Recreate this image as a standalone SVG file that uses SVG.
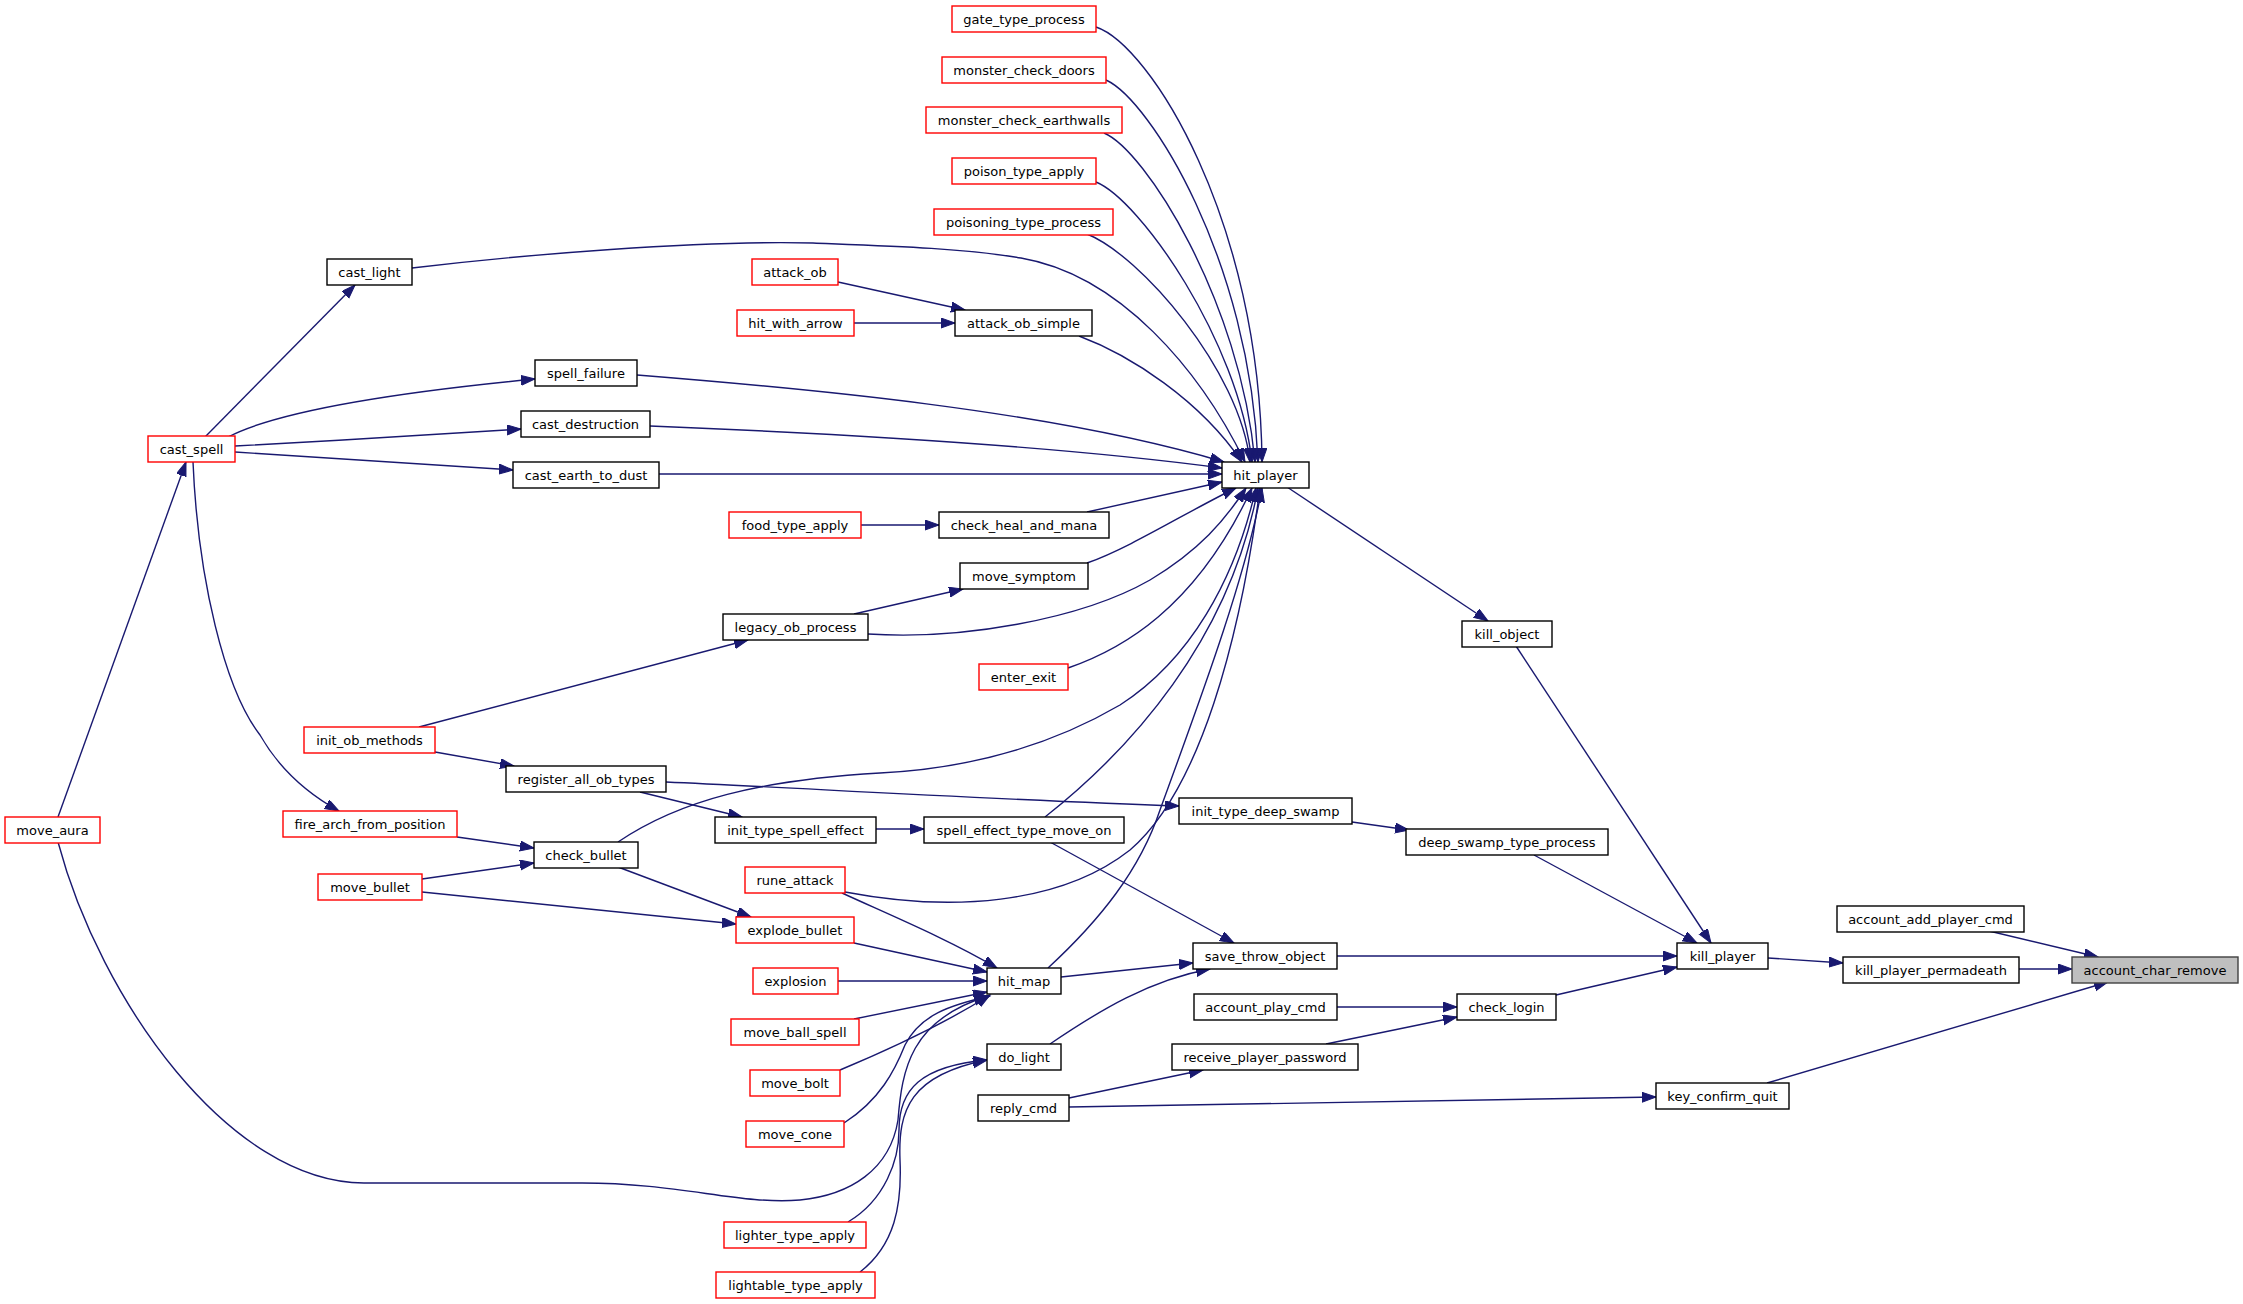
<svg xmlns="http://www.w3.org/2000/svg" width="2243" height="1304" viewBox="0 0 2243 1304">
<defs>
<style>
.n rect{fill:#ffffff;stroke:#000000;stroke-width:1.4}
.r rect{stroke:#ff0000}
.root rect{fill:#bfbfbf;stroke:#404040}
.n text{font-family:"DejaVu Sans","Liberation Sans",sans-serif;font-size:13px;text-anchor:middle;fill:#000000}
#edges path{fill:none;stroke:#191970;stroke-width:1.4;marker-end:url(#a)}
</style>
<marker id="a" markerUnits="userSpaceOnUse" markerWidth="16" markerHeight="12" refX="14" refY="5" orient="auto">
<path d="M0,0 L14,5 L0,10 z" fill="#191970" stroke="#191970" stroke-width="1"/>
</marker>
</defs>
<rect x="0" y="0" width="2243" height="1304" fill="#ffffff"/>
<g id="edges">
<path d="M1989,931 L2098,957"/>
<path d="M2019,969 L2072,969"/>
<path d="M1767,1083 L2108,982"/>
<path d="M1768,958 L1843,963"/>
<path d="M1516,646 L1711,943"/>
<path d="M1534,855 L1697,943"/>
<path d="M1337,956 L1677,956"/>
<path d="M1556,995 L1677,967"/>
<path d="M1287,487 L1488,621"/>
<path d="M1337,1007 L1457,1007"/>
<path d="M1326,1044 L1457,1017"/>
<path d="M1069,1098 L1203,1070"/>
<path d="M1069,1107 C1300,1104 1500,1100 1656,1097"/>
<path d="M1061,977 L1193,963"/>
<path d="M1050,1044 C1100,1010 1150,980 1210,969"/>
<path d="M1050,842 L1234,943"/>
<path d="M1352,822 L1409,830"/>
<path d="M666,782 C800,788 1000,800 1179,806"/>
<path d="M876,829 L924,829"/>
<path d="M640,792 L742,817"/>
<path d="M435,752 L514,766"/>
<path d="M419,727 L748,640"/>
<path d="M854,614 L963,589"/>
<path d="M868,634 C960,640 1080,620 1150,580 C1200,550 1225,520 1246,488"/>
<path d="M1087,563 C1130,548 1190,510 1236,488"/>
<path d="M1087,512 L1222,482"/>
<path d="M861,525 L939,525"/>
<path d="M1068,668 C1120,650 1195,610 1252,488"/>
<path d="M618,842 C680,800 760,780 880,773 C980,768 1060,740 1120,705 C1190,660 1235,580 1256,488"/>
<path d="M1045,817 C1130,750 1230,640 1258,488"/>
<path d="M845,892 C950,912 1060,905 1130,850 C1200,790 1240,640 1260,488"/>
<path d="M1048,968 C1100,920 1140,870 1160,810 C1200,700 1245,580 1262,488"/>
<path d="M659,474 L1222,474"/>
<path d="M650,426 C800,432 1050,445 1222,468"/>
<path d="M637,375 C800,388 1050,410 1224,462"/>
<path d="M412,268 C520,255 700,240 813,243 C890,246 960,248 1021,258 C1120,275 1200,370 1245,462"/>
<path d="M1079,336 C1130,355 1200,400 1242,462"/>
<path d="M1096,27 C1150,45 1260,220 1262,462"/>
<path d="M1106,80 C1150,100 1250,260 1258,462"/>
<path d="M1104,133 C1145,150 1240,300 1255,462"/>
<path d="M1096,182 C1140,200 1238,340 1252,462"/>
<path d="M1087,234 C1140,255 1240,370 1250,462"/>
<path d="M838,282 L965,310"/>
<path d="M854,323 L955,323"/>
<path d="M205,437 L355,285"/>
<path d="M228,437 C280,410 400,392 535,379"/>
<path d="M235,446 C330,441 430,435 521,429"/>
<path d="M235,452 L513,470"/>
<path d="M58,817 L186,462"/>
<path d="M193,462 C198,580 225,690 260,735 C280,770 310,795 339,811"/>
<path d="M457,837 L534,848"/>
<path d="M422,879 L534,863"/>
<path d="M618,867 L751,917"/>
<path d="M422,892 L736,924"/>
<path d="M842,893 C890,915 950,940 997,968"/>
<path d="M854,943 L987,972"/>
<path d="M838,981 L987,981"/>
<path d="M854,1019 L987,992"/>
<path d="M840,1070 C900,1045 950,1020 990,995"/>
<path d="M844,1123 C880,1100 895,1070 905,1045 C920,1015 950,1005 990,996"/>
<path d="M58,842 C100,1000 230,1183 364,1183 L582,1183 C680,1183 740,1205 800,1200 C850,1195 890,1170 898,1120 C902,1070 910,1020 988,996"/>
<path d="M848,1222 C885,1200 899,1160 899,1130 C899,1090 920,1066 987,1060"/>
<path d="M860,1272 C895,1245 902,1205 900,1160 C898,1110 910,1075 987,1060"/>
</g>
<g id="n_account_char_remove" class="n root"><rect x="2072" y="957" width="166" height="26"/><text x="2155" y="974.5">account_char_remove</text></g>
<g id="n_account_add_player_cmd" class="n"><rect x="1837" y="906" width="187" height="26"/><text x="1930.5" y="923.5">account_add_player_cmd</text></g>
<g id="n_kill_player_permadeath" class="n"><rect x="1843" y="957" width="176" height="26"/><text x="1931" y="974.5">kill_player_permadeath</text></g>
<g id="n_key_confirm_quit" class="n"><rect x="1656" y="1083" width="133" height="26"/><text x="1722.5" y="1100.5">key_confirm_quit</text></g>
<g id="n_kill_player" class="n"><rect x="1677" y="943" width="91" height="26"/><text x="1722.5" y="960.5">kill_player</text></g>
<g id="n_kill_object" class="n"><rect x="1462" y="621" width="90" height="26"/><text x="1507" y="638.5">kill_object</text></g>
<g id="n_deep_swamp_type_process" class="n"><rect x="1406" y="829" width="202" height="26"/><text x="1507" y="846.5">deep_swamp_type_process</text></g>
<g id="n_save_throw_object" class="n"><rect x="1193" y="943" width="144" height="26"/><text x="1265" y="960.5">save_throw_object</text></g>
<g id="n_check_login" class="n"><rect x="1457" y="994" width="99" height="26"/><text x="1506.5" y="1011.5">check_login</text></g>
<g id="n_account_play_cmd" class="n"><rect x="1194" y="994" width="143" height="26"/><text x="1265.5" y="1011.5">account_play_cmd</text></g>
<g id="n_receive_player_password" class="n"><rect x="1172" y="1044" width="186" height="26"/><text x="1265" y="1061.5">receive_player_password</text></g>
<g id="n_reply_cmd" class="n"><rect x="978" y="1095" width="91" height="26"/><text x="1023.5" y="1112.5">reply_cmd</text></g>
<g id="n_hit_map" class="n"><rect x="987" y="968" width="74" height="26"/><text x="1024" y="985.5">hit_map</text></g>
<g id="n_do_light" class="n"><rect x="987" y="1044" width="74" height="26"/><text x="1024" y="1061.5">do_light</text></g>
<g id="n_hit_player" class="n"><rect x="1222" y="462" width="87" height="26"/><text x="1265.5" y="479.5">hit_player</text></g>
<g id="n_init_type_deep_swamp" class="n"><rect x="1179" y="798" width="173" height="26"/><text x="1265.5" y="815.5">init_type_deep_swamp</text></g>
<g id="n_spell_effect_type_move_on" class="n"><rect x="924" y="817" width="200" height="26"/><text x="1024" y="834.5">spell_effect_type_move_on</text></g>
<g id="n_init_type_spell_effect" class="n"><rect x="715" y="817" width="161" height="26"/><text x="795.5" y="834.5">init_type_spell_effect</text></g>
<g id="n_register_all_ob_types" class="n"><rect x="506" y="766" width="160" height="26"/><text x="586" y="783.5">register_all_ob_types</text></g>
<g id="n_init_ob_methods" class="n r"><rect x="304" y="727" width="131" height="26"/><text x="369.5" y="744.5">init_ob_methods</text></g>
<g id="n_legacy_ob_process" class="n"><rect x="723" y="614" width="145" height="26"/><text x="795.5" y="631.5">legacy_ob_process</text></g>
<g id="n_move_symptom" class="n"><rect x="960" y="563" width="128" height="26"/><text x="1024" y="580.5">move_symptom</text></g>
<g id="n_check_heal_and_mana" class="n"><rect x="939" y="512" width="170" height="26"/><text x="1024" y="529.5">check_heal_and_mana</text></g>
<g id="n_food_type_apply" class="n r"><rect x="729" y="512" width="132" height="26"/><text x="795" y="529.5">food_type_apply</text></g>
<g id="n_enter_exit" class="n r"><rect x="979" y="664" width="89" height="26"/><text x="1023.5" y="681.5">enter_exit</text></g>
<g id="n_cast_earth_to_dust" class="n"><rect x="513" y="462" width="146" height="26"/><text x="586" y="479.5">cast_earth_to_dust</text></g>
<g id="n_cast_destruction" class="n"><rect x="521" y="411" width="129" height="26"/><text x="585.5" y="428.5">cast_destruction</text></g>
<g id="n_spell_failure" class="n"><rect x="535" y="360" width="102" height="26"/><text x="586" y="377.5">spell_failure</text></g>
<g id="n_cast_light" class="n"><rect x="327" y="259" width="85" height="26"/><text x="369.5" y="276.5">cast_light</text></g>
<g id="n_cast_spell" class="n r"><rect x="148" y="436" width="87" height="26"/><text x="191.5" y="453.5">cast_spell</text></g>
<g id="n_attack_ob_simple" class="n"><rect x="955" y="310" width="137" height="26"/><text x="1023.5" y="327.5">attack_ob_simple</text></g>
<g id="n_attack_ob" class="n r"><rect x="752" y="259" width="86" height="26"/><text x="795" y="276.5">attack_ob</text></g>
<g id="n_hit_with_arrow" class="n r"><rect x="737" y="310" width="117" height="26"/><text x="795.5" y="327.5">hit_with_arrow</text></g>
<g id="n_gate_type_process" class="n r"><rect x="952" y="6" width="144" height="26"/><text x="1024" y="23.5">gate_type_process</text></g>
<g id="n_monster_check_doors" class="n r"><rect x="942" y="57" width="164" height="26"/><text x="1024" y="74.5">monster_check_doors</text></g>
<g id="n_monster_check_earthwalls" class="n r"><rect x="926" y="107" width="196" height="26"/><text x="1024" y="124.5">monster_check_earthwalls</text></g>
<g id="n_poison_type_apply" class="n r"><rect x="952" y="158" width="144" height="26"/><text x="1024" y="175.5">poison_type_apply</text></g>
<g id="n_poisoning_type_process" class="n r"><rect x="934" y="209" width="179" height="26"/><text x="1023.5" y="226.5">poisoning_type_process</text></g>
<g id="n_move_aura" class="n r"><rect x="5" y="817" width="95" height="26"/><text x="52.5" y="834.5">move_aura</text></g>
<g id="n_fire_arch_from_position" class="n r"><rect x="283" y="811" width="174" height="26"/><text x="370" y="828.5">fire_arch_from_position</text></g>
<g id="n_check_bullet" class="n"><rect x="534" y="842" width="104" height="26"/><text x="586" y="859.5">check_bullet</text></g>
<g id="n_move_bullet" class="n r"><rect x="318" y="874" width="104" height="26"/><text x="370" y="891.5">move_bullet</text></g>
<g id="n_explode_bullet" class="n r"><rect x="736" y="917" width="118" height="26"/><text x="795" y="934.5">explode_bullet</text></g>
<g id="n_rune_attack" class="n r"><rect x="745" y="867" width="100" height="26"/><text x="795" y="884.5">rune_attack</text></g>
<g id="n_explosion" class="n r"><rect x="753" y="968" width="85" height="26"/><text x="795.5" y="985.5">explosion</text></g>
<g id="n_move_ball_spell" class="n r"><rect x="731" y="1019" width="128" height="26"/><text x="795" y="1036.5">move_ball_spell</text></g>
<g id="n_move_bolt" class="n r"><rect x="750" y="1070" width="90" height="26"/><text x="795" y="1087.5">move_bolt</text></g>
<g id="n_move_cone" class="n r"><rect x="746" y="1121" width="98" height="26"/><text x="795" y="1138.5">move_cone</text></g>
<g id="n_lighter_type_apply" class="n r"><rect x="724" y="1222" width="142" height="26"/><text x="795" y="1239.5">lighter_type_apply</text></g>
<g id="n_lightable_type_apply" class="n r"><rect x="716" y="1272" width="159" height="26"/><text x="795.5" y="1289.5">lightable_type_apply</text></g>
</svg>
